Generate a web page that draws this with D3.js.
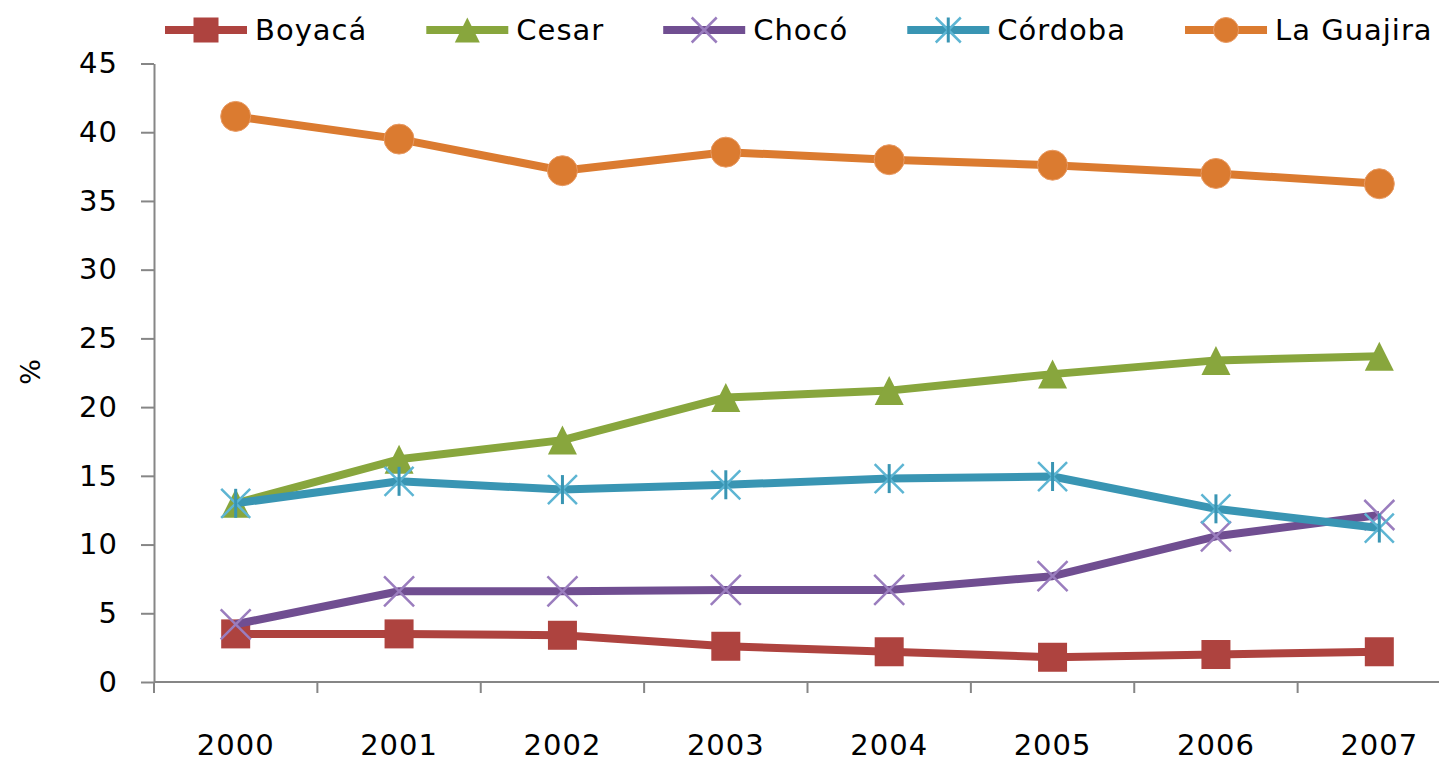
<!DOCTYPE html>
<html>
<head>
<meta charset="utf-8">
<script src="https://cdn.jsdelivr.net/npm/d3@7"></script>
<style>
  body { margin: 0; background: #fff; }
  svg { display: block; }
  text { font-family: "DejaVu Sans", sans-serif; fill: #000; }
</style>
</head>
<body>
<svg id="chart"></svg>
<script>
// data
const years = ["2000", "2001", "2002", "2003", "2004", "2005", "2006", "2007"];
const boyaca  = [3.5, 3.5, 3.4, 2.6, 2.2, 1.8, 2.0, 2.2];
const cesar   = [13.0, 16.2, 17.6, 20.7, 21.2, 22.4, 23.4, 23.7];
const choco   = [4.2, 6.6, 6.6, 6.7, 6.7, 7.7, 10.6, 12.15];
const cordoba = [13.0, 14.6, 14.0, 14.35, 14.8, 14.95, 12.6, 11.2];
const guajira = [41.15, 39.5, 37.2, 38.55, 38.0, 37.6, 37.0, 36.25];
const seriesNames = ["Boyacá", "Cesar", "Chocó", "Córdoba", "La Guajira"];
const yTicks = [0, 5, 10, 15, 20, 25, 30, 35, 40, 45];

var series = [
  {name: seriesNames[0], values: boyaca,  color: "#AE433F", mark: "square"},
  {name: seriesNames[1], values: cesar,   color: "#88A63D", mark: "triangle"},
  {name: seriesNames[2], values: choco,   color: "#704E91", mark: "x",        light: "#9A7DBE"},
  {name: seriesNames[3], values: cordoba, color: "#3995B3", mark: "asterisk", light: "#5DB5D3"},
  {name: seriesNames[4], values: guajira, color: "#DB7B30", mark: "circle"}
];

var W = 1439, H = 762;
var svg = d3.select("#chart").attr("width", W).attr("height", H);

// plot area (right end runs off the picture like the original)
var x = d3.scaleBand().domain(years).range([154, 1461]);
var y = d3.scaleLinear().domain([0, 45]).range([682, 63.5]);
var cx = function(i) { return x(years[i]) + x.bandwidth() / 2; };

var axisColor = "#868686";

// y axis
var yAxis = svg.append("g")
  .attr("transform", "translate(154,0)")
  .call(d3.axisLeft(y).tickValues(yTicks).tickSize(13).tickPadding(23).tickSizeOuter(0));
yAxis.select(".domain").attr("stroke", axisColor).attr("stroke-width", 2);
yAxis.selectAll(".tick line").attr("stroke", axisColor).attr("stroke-width", 2);
yAxis.selectAll(".tick text")
  .style("font-size", "29px").style("font-family", "DejaVu Sans").attr("fill", "#000")
  .attr("letter-spacing", 1);

// little stub of the y axis below zero
svg.append("line")
  .attr("x1", 154).attr("x2", 154).attr("y1", y(0)).attr("y2", y(0) + 11)
  .attr("stroke", axisColor).attr("stroke-width", 2);

// x axis line
svg.append("line")
  .attr("x1", 154).attr("x2", 1461).attr("y1", y(0)).attr("y2", y(0))
  .attr("stroke", axisColor).attr("stroke-width", 2);

// x tick marks between categories
svg.append("g").selectAll("line")
  .data(years.slice(1))
  .enter().append("line")
  .attr("x1", function(d) { return x(d); })
  .attr("x2", function(d) { return x(d); })
  .attr("y1", y(0)).attr("y2", y(0) + 11)
  .attr("stroke", axisColor).attr("stroke-width", 2);

// x labels
var xAxis = svg.append("g")
  .attr("transform", "translate(0," + y(0) + ")")
  .call(d3.axisBottom(x).tickSize(0));
xAxis.select(".domain").remove();
xAxis.selectAll(".tick text")
  .attr("y", 73).attr("dy", 0)
  .style("font-size", "29px").style("font-family", "DejaVu Sans").attr("fill", "#000")
  .attr("letter-spacing", 1);

// "%" axis title
svg.append("text")
  .attr("transform", "translate(40,372) rotate(-90)")
  .attr("text-anchor", "middle")
  .style("font-size", "27px")
  .text("%");

// marker drawing
function drawMarker(g, s, size) {
  var h = size / 2;
  if (s.mark == "square") {
    g.append("rect").attr("x", -h).attr("y", -h).attr("width", size).attr("height", size)
      .attr("fill", s.color);
  } else if (s.mark == "triangle") {
    g.append("path").attr("d", "M0," + (-h) + "L" + h + "," + h + "L" + (-h) + "," + h + "Z")
      .attr("fill", s.color);
  } else if (s.mark == "circle") {
    g.append("circle").attr("r", h).attr("fill", s.color)
      .attr("stroke", "#E89A63").attr("stroke-width", 1);
  } else if (s.mark == "x") {
    g.append("path").attr("d", "M" + (-h) + "," + (-h) + "L" + h + "," + h + "M" + h + "," + (-h) + "L" + (-h) + "," + h)
      .attr("stroke", s.light).attr("stroke-width", 2.5).attr("fill", "none");
  } else if (s.mark == "asterisk") {
    g.append("path").attr("d", "M" + (-h) + "," + (-h) + "L" + h + "," + h + "M" + h + "," + (-h) + "L" + (-h) + "," + h)
      .attr("stroke", s.light).attr("stroke-width", 2.5).attr("fill", "none");
    g.append("path").attr("d", "M0," + (-h) + "L0," + h)
      .attr("stroke", s.color).attr("stroke-width", 3).attr("fill", "none");
  }
}

var line = d3.line()
  .x(function(d, i) { return cx(i); })
  .y(function(d) { return y(d); });

var markSize = {square: 29, triangle: 29, circle: 30, x: 30, asterisk: 29};

series.forEach(function(s) {
  var g = svg.append("g");
  g.append("path")
    .attr("d", line(s.values))
    .attr("fill", "none")
    .attr("stroke", s.color)
    .attr("stroke-width", 8)
    .attr("stroke-linejoin", "round");
  s.values.forEach(function(v, i) {
    var m = g.append("g").attr("transform", "translate(" + cx(i) + "," + y(v) + ")");
    drawMarker(m, s, markSize[s.mark]);
  });
});

// legend
var lx = 165, ly = 30;
series.forEach(function(s) {
  var g = svg.append("g").attr("transform", "translate(" + lx + "," + ly + ")");
  g.append("line").attr("x1", 0).attr("x2", 82).attr("y1", 0).attr("y2", 0)
    .attr("stroke", s.color).attr("stroke-width", 8);
  var m = g.append("g").attr("transform", "translate(41,0)");
  drawMarker(m, s, 25);
  var t = g.append("text")
    .attr("x", 90).attr("y", 0).attr("dy", "0.36em")
    .style("font-size", "29px")
    .attr("letter-spacing", 1)
    .text(s.name);
  lx += 90 + t.node().getComputedTextLength() + 59;
});
</script>
</body>
</html>
